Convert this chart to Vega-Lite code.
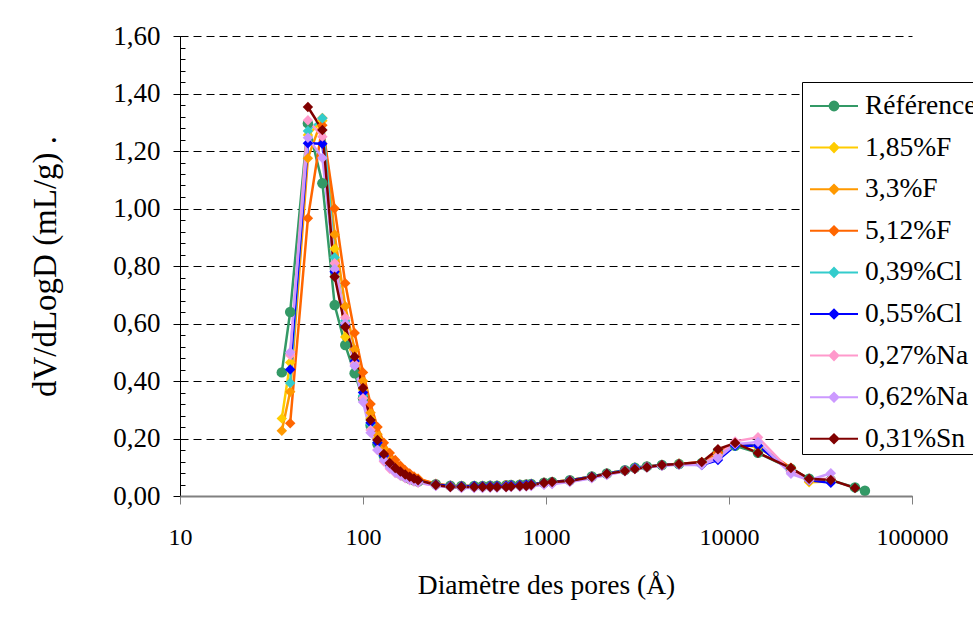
{
"$schema": "https://vega.github.io/schema/vega-lite/v6.json",
"width": 732, "height": 460,
"autosize": {"type": "none"},
"padding": {"left": 180, "top": 36, "right": 61, "bottom": 138},
"background": "white",
"config": {"font": "Liberation Serif", "view": {"stroke": null},
  "axis": {"labelFont": "Liberation Serif", "titleFont": "Liberation Serif", "labelFontSize": 26, "titleFontSize": 27.5, "titleFontWeight": "normal", "labelColor": "black", "titleColor": "black"}},
"data": {"values": [
{"s":"Référence","d":36,"v":0.43},{"s":"Référence","d":40,"v":0.64},{"s":"Référence","d":50,"v":1.296},{"s":"Référence","d":60,"v":1.088},{"s":"Référence","d":70,"v":0.664},{"s":"Référence","d":80,"v":0.525},{"s":"Référence","d":90,"v":0.427},{"s":"Référence","d":100,"v":0.34},{"s":"Référence","d":110,"v":0.245},{"s":"Référence","d":120,"v":0.18},{"s":"Référence","d":130,"v":0.14},{"s":"Référence","d":140,"v":0.11},{"s":"Référence","d":150,"v":0.09},{"s":"Référence","d":160,"v":0.077},{"s":"Référence","d":170,"v":0.068},{"s":"Référence","d":180,"v":0.06},{"s":"Référence","d":190,"v":0.055},{"s":"Référence","d":200,"v":0.05},{"s":"Référence","d":250,"v":0.041},{"s":"Référence","d":300,"v":0.036},{"s":"Référence","d":345,"v":0.035},{"s":"Référence","d":405,"v":0.035},{"s":"Référence","d":450,"v":0.035},{"s":"Référence","d":495,"v":0.036},{"s":"Référence","d":540,"v":0.036},{"s":"Référence","d":605,"v":0.037},{"s":"Référence","d":645,"v":0.038},{"s":"Référence","d":720,"v":0.039},{"s":"Référence","d":780,"v":0.04},{"s":"Référence","d":830,"v":0.042},{"s":"Référence","d":975,"v":0.046},{"s":"Référence","d":1080,"v":0.049},{"s":"Référence","d":1350,"v":0.055},{"s":"Référence","d":1780,"v":0.068},{"s":"Référence","d":2150,"v":0.078},{"s":"Référence","d":2700,"v":0.09},{"s":"Référence","d":3060,"v":0.098},{"s":"Référence","d":3560,"v":0.103},{"s":"Référence","d":4300,"v":0.108},{"s":"Référence","d":5330,"v":0.111},{"s":"Référence","d":7100,"v":0.115},{"s":"Référence","d":8700,"v":0.155},{"s":"Référence","d":10800,"v":0.175},{"s":"Référence","d":14400,"v":0.15},{"s":"Référence","d":21800,"v":0.095},{"s":"Référence","d":27400,"v":0.06},{"s":"Référence","d":36000,"v":0.055},{"s":"Référence","d":48800,"v":0.03},{"s":"Référence","d":55300,"v":0.018},
{"s":"1,85%F","d":36,"v":0.27},{"s":"1,85%F","d":40,"v":0.464},{"s":"1,85%F","d":50,"v":1.256},{"s":"1,85%F","d":60,"v":1.305},{"s":"1,85%F","d":70,"v":0.86},{"s":"1,85%F","d":80,"v":0.553},{"s":"1,85%F","d":90,"v":0.47},{"s":"1,85%F","d":100,"v":0.37},{"s":"1,85%F","d":110,"v":0.27},{"s":"1,85%F","d":120,"v":0.2},{"s":"1,85%F","d":130,"v":0.15},{"s":"1,85%F","d":140,"v":0.12},{"s":"1,85%F","d":150,"v":0.1},{"s":"1,85%F","d":160,"v":0.087},{"s":"1,85%F","d":170,"v":0.077},{"s":"1,85%F","d":180,"v":0.068},{"s":"1,85%F","d":190,"v":0.062},{"s":"1,85%F","d":200,"v":0.056},{"s":"1,85%F","d":250,"v":0.04},{"s":"1,85%F","d":300,"v":0.035},{"s":"1,85%F","d":345,"v":0.034},{"s":"1,85%F","d":405,"v":0.034},{"s":"1,85%F","d":450,"v":0.034},{"s":"1,85%F","d":495,"v":0.035},{"s":"1,85%F","d":540,"v":0.035},{"s":"1,85%F","d":605,"v":0.036},{"s":"1,85%F","d":645,"v":0.037},{"s":"1,85%F","d":720,"v":0.038},{"s":"1,85%F","d":780,"v":0.039},{"s":"1,85%F","d":830,"v":0.041},{"s":"1,85%F","d":975,"v":0.045},{"s":"1,85%F","d":1080,"v":0.048},{"s":"1,85%F","d":1350,"v":0.054},{"s":"1,85%F","d":1780,"v":0.067},{"s":"1,85%F","d":2150,"v":0.077},{"s":"1,85%F","d":2700,"v":0.089},{"s":"1,85%F","d":3060,"v":0.097},{"s":"1,85%F","d":3560,"v":0.102},{"s":"1,85%F","d":4300,"v":0.107},{"s":"1,85%F","d":5330,"v":0.111},{"s":"1,85%F","d":7100,"v":0.115},{"s":"1,85%F","d":8700,"v":0.15},{"s":"1,85%F","d":10800,"v":0.18},{"s":"1,85%F","d":14400,"v":0.17},{"s":"1,85%F","d":21800,"v":0.095},{"s":"1,85%F","d":27400,"v":0.048},{"s":"1,85%F","d":36000,"v":0.05},
{"s":"3,3%F","d":36,"v":0.227},{"s":"3,3%F","d":40,"v":0.363},{"s":"3,3%F","d":50,"v":1.175},{"s":"3,3%F","d":60,"v":1.315},{"s":"3,3%F","d":70,"v":0.91},{"s":"3,3%F","d":80,"v":0.66},{"s":"3,3%F","d":90,"v":0.51},{"s":"3,3%F","d":100,"v":0.4},{"s":"3,3%F","d":110,"v":0.29},{"s":"3,3%F","d":120,"v":0.215},{"s":"3,3%F","d":130,"v":0.165},{"s":"3,3%F","d":140,"v":0.13},{"s":"3,3%F","d":150,"v":0.108},{"s":"3,3%F","d":160,"v":0.093},{"s":"3,3%F","d":170,"v":0.082},{"s":"3,3%F","d":180,"v":0.073},{"s":"3,3%F","d":190,"v":0.066},{"s":"3,3%F","d":200,"v":0.06},{"s":"3,3%F","d":250,"v":0.041},{"s":"3,3%F","d":300,"v":0.036},{"s":"3,3%F","d":345,"v":0.035},{"s":"3,3%F","d":405,"v":0.035},{"s":"3,3%F","d":450,"v":0.035},{"s":"3,3%F","d":495,"v":0.036},{"s":"3,3%F","d":540,"v":0.036},{"s":"3,3%F","d":605,"v":0.037},{"s":"3,3%F","d":645,"v":0.038},{"s":"3,3%F","d":720,"v":0.039},{"s":"3,3%F","d":780,"v":0.04},{"s":"3,3%F","d":830,"v":0.042},{"s":"3,3%F","d":975,"v":0.046},{"s":"3,3%F","d":1080,"v":0.049},{"s":"3,3%F","d":1350,"v":0.055},{"s":"3,3%F","d":1780,"v":0.068},{"s":"3,3%F","d":2150,"v":0.078},{"s":"3,3%F","d":2700,"v":0.09},{"s":"3,3%F","d":3060,"v":0.098},{"s":"3,3%F","d":3560,"v":0.103},{"s":"3,3%F","d":4300,"v":0.108},{"s":"3,3%F","d":5330,"v":0.112},{"s":"3,3%F","d":7100,"v":0.116},{"s":"3,3%F","d":8700,"v":0.15},{"s":"3,3%F","d":10800,"v":0.18},{"s":"3,3%F","d":14400,"v":0.172},{"s":"3,3%F","d":21800,"v":0.095},{"s":"3,3%F","d":27400,"v":0.052},{"s":"3,3%F","d":36000,"v":0.052},
{"s":"5,12%F","d":40,"v":0.253},{"s":"5,12%F","d":50,"v":0.966},{"s":"5,12%F","d":60,"v":1.29},{"s":"5,12%F","d":70,"v":1.0},{"s":"5,12%F","d":80,"v":0.74},{"s":"5,12%F","d":90,"v":0.567},{"s":"5,12%F","d":100,"v":0.43},{"s":"5,12%F","d":110,"v":0.32},{"s":"5,12%F","d":120,"v":0.24},{"s":"5,12%F","d":130,"v":0.185},{"s":"5,12%F","d":140,"v":0.15},{"s":"5,12%F","d":150,"v":0.125},{"s":"5,12%F","d":160,"v":0.105},{"s":"5,12%F","d":170,"v":0.09},{"s":"5,12%F","d":180,"v":0.078},{"s":"5,12%F","d":190,"v":0.068},{"s":"5,12%F","d":200,"v":0.06},{"s":"5,12%F","d":250,"v":0.043},{"s":"5,12%F","d":300,"v":0.036},{"s":"5,12%F","d":345,"v":0.035},{"s":"5,12%F","d":405,"v":0.035},{"s":"5,12%F","d":450,"v":0.035},{"s":"5,12%F","d":495,"v":0.036},{"s":"5,12%F","d":540,"v":0.036},{"s":"5,12%F","d":605,"v":0.037},{"s":"5,12%F","d":645,"v":0.038},{"s":"5,12%F","d":720,"v":0.039},{"s":"5,12%F","d":780,"v":0.04},{"s":"5,12%F","d":830,"v":0.042},{"s":"5,12%F","d":975,"v":0.046},{"s":"5,12%F","d":1080,"v":0.049},{"s":"5,12%F","d":1350,"v":0.055},{"s":"5,12%F","d":1780,"v":0.068},{"s":"5,12%F","d":2150,"v":0.078},{"s":"5,12%F","d":2700,"v":0.09},{"s":"5,12%F","d":3060,"v":0.098},{"s":"5,12%F","d":3560,"v":0.103},{"s":"5,12%F","d":4300,"v":0.108},{"s":"5,12%F","d":5330,"v":0.112},{"s":"5,12%F","d":7100,"v":0.117},{"s":"5,12%F","d":8700,"v":0.152},{"s":"5,12%F","d":10800,"v":0.18},{"s":"5,12%F","d":14400,"v":0.175},{"s":"5,12%F","d":21800,"v":0.098},{"s":"5,12%F","d":27400,"v":0.056},{"s":"5,12%F","d":36000,"v":0.055},
{"s":"0,39%Cl","d":40,"v":0.393},{"s":"0,39%Cl","d":50,"v":1.27},{"s":"0,39%Cl","d":60,"v":1.314},{"s":"0,39%Cl","d":70,"v":0.83},{"s":"0,39%Cl","d":80,"v":0.61},{"s":"0,39%Cl","d":90,"v":0.47},{"s":"0,39%Cl","d":100,"v":0.35},{"s":"0,39%Cl","d":110,"v":0.25},{"s":"0,39%Cl","d":120,"v":0.185},{"s":"0,39%Cl","d":130,"v":0.14},{"s":"0,39%Cl","d":140,"v":0.11},{"s":"0,39%Cl","d":150,"v":0.09},{"s":"0,39%Cl","d":160,"v":0.078},{"s":"0,39%Cl","d":170,"v":0.069},{"s":"0,39%Cl","d":180,"v":0.062},{"s":"0,39%Cl","d":190,"v":0.056},{"s":"0,39%Cl","d":200,"v":0.051},{"s":"0,39%Cl","d":250,"v":0.04},{"s":"0,39%Cl","d":300,"v":0.035},{"s":"0,39%Cl","d":345,"v":0.034},{"s":"0,39%Cl","d":405,"v":0.034},{"s":"0,39%Cl","d":450,"v":0.034},{"s":"0,39%Cl","d":495,"v":0.035},{"s":"0,39%Cl","d":540,"v":0.035},{"s":"0,39%Cl","d":605,"v":0.036},{"s":"0,39%Cl","d":645,"v":0.037},{"s":"0,39%Cl","d":720,"v":0.038},{"s":"0,39%Cl","d":780,"v":0.039},{"s":"0,39%Cl","d":830,"v":0.041},{"s":"0,39%Cl","d":975,"v":0.045},{"s":"0,39%Cl","d":1080,"v":0.048},{"s":"0,39%Cl","d":1350,"v":0.054},{"s":"0,39%Cl","d":1780,"v":0.068},{"s":"0,39%Cl","d":2150,"v":0.078},{"s":"0,39%Cl","d":2700,"v":0.09},{"s":"0,39%Cl","d":3060,"v":0.099},{"s":"0,39%Cl","d":3560,"v":0.103},{"s":"0,39%Cl","d":4300,"v":0.107},{"s":"0,39%Cl","d":5330,"v":0.111},{"s":"0,39%Cl","d":7100,"v":0.112},{"s":"0,39%Cl","d":8700,"v":0.14},{"s":"0,39%Cl","d":10800,"v":0.175},{"s":"0,39%Cl","d":14400,"v":0.175},{"s":"0,39%Cl","d":21800,"v":0.09},{"s":"0,39%Cl","d":27400,"v":0.056},{"s":"0,39%Cl","d":36000,"v":0.052},
{"s":"0,55%Cl","d":40,"v":0.44},{"s":"0,55%Cl","d":50,"v":1.227},{"s":"0,55%Cl","d":60,"v":1.225},{"s":"0,55%Cl","d":70,"v":0.78},{"s":"0,55%Cl","d":80,"v":0.595},{"s":"0,55%Cl","d":90,"v":0.47},{"s":"0,55%Cl","d":100,"v":0.36},{"s":"0,55%Cl","d":110,"v":0.255},{"s":"0,55%Cl","d":120,"v":0.185},{"s":"0,55%Cl","d":130,"v":0.14},{"s":"0,55%Cl","d":140,"v":0.11},{"s":"0,55%Cl","d":150,"v":0.09},{"s":"0,55%Cl","d":160,"v":0.078},{"s":"0,55%Cl","d":170,"v":0.069},{"s":"0,55%Cl","d":180,"v":0.062},{"s":"0,55%Cl","d":190,"v":0.056},{"s":"0,55%Cl","d":200,"v":0.051},{"s":"0,55%Cl","d":250,"v":0.04},{"s":"0,55%Cl","d":300,"v":0.035},{"s":"0,55%Cl","d":345,"v":0.034},{"s":"0,55%Cl","d":405,"v":0.035},{"s":"0,55%Cl","d":450,"v":0.034},{"s":"0,55%Cl","d":495,"v":0.035},{"s":"0,55%Cl","d":540,"v":0.035},{"s":"0,55%Cl","d":605,"v":0.036},{"s":"0,55%Cl","d":645,"v":0.037},{"s":"0,55%Cl","d":720,"v":0.038},{"s":"0,55%Cl","d":780,"v":0.039},{"s":"0,55%Cl","d":830,"v":0.041},{"s":"0,55%Cl","d":975,"v":0.045},{"s":"0,55%Cl","d":1080,"v":0.048},{"s":"0,55%Cl","d":1350,"v":0.054},{"s":"0,55%Cl","d":1780,"v":0.067},{"s":"0,55%Cl","d":2150,"v":0.077},{"s":"0,55%Cl","d":2700,"v":0.089},{"s":"0,55%Cl","d":3060,"v":0.097},{"s":"0,55%Cl","d":3560,"v":0.102},{"s":"0,55%Cl","d":4300,"v":0.107},{"s":"0,55%Cl","d":5330,"v":0.11},{"s":"0,55%Cl","d":7100,"v":0.108},{"s":"0,55%Cl","d":8700,"v":0.125},{"s":"0,55%Cl","d":10800,"v":0.175},{"s":"0,55%Cl","d":14400,"v":0.175},{"s":"0,55%Cl","d":21800,"v":0.085},{"s":"0,55%Cl","d":27400,"v":0.055},{"s":"0,55%Cl","d":36000,"v":0.046},
{"s":"0,27%Na","d":40,"v":0.49},{"s":"0,27%Na","d":50,"v":1.307},{"s":"0,27%Na","d":60,"v":1.25},{"s":"0,27%Na","d":70,"v":0.81},{"s":"0,27%Na","d":80,"v":0.62},{"s":"0,27%Na","d":90,"v":0.46},{"s":"0,27%Na","d":100,"v":0.34},{"s":"0,27%Na","d":110,"v":0.23},{"s":"0,27%Na","d":120,"v":0.16},{"s":"0,27%Na","d":130,"v":0.12},{"s":"0,27%Na","d":140,"v":0.095},{"s":"0,27%Na","d":150,"v":0.08},{"s":"0,27%Na","d":160,"v":0.07},{"s":"0,27%Na","d":170,"v":0.062},{"s":"0,27%Na","d":180,"v":0.055},{"s":"0,27%Na","d":190,"v":0.05},{"s":"0,27%Na","d":200,"v":0.046},{"s":"0,27%Na","d":250,"v":0.036},{"s":"0,27%Na","d":300,"v":0.031},{"s":"0,27%Na","d":345,"v":0.029},{"s":"0,27%Na","d":405,"v":0.029},{"s":"0,27%Na","d":450,"v":0.029},{"s":"0,27%Na","d":495,"v":0.03},{"s":"0,27%Na","d":540,"v":0.03},{"s":"0,27%Na","d":605,"v":0.031},{"s":"0,27%Na","d":645,"v":0.032},{"s":"0,27%Na","d":720,"v":0.033},{"s":"0,27%Na","d":780,"v":0.034},{"s":"0,27%Na","d":830,"v":0.036},{"s":"0,27%Na","d":975,"v":0.04},{"s":"0,27%Na","d":1080,"v":0.043},{"s":"0,27%Na","d":1350,"v":0.05},{"s":"0,27%Na","d":1780,"v":0.063},{"s":"0,27%Na","d":2150,"v":0.074},{"s":"0,27%Na","d":2700,"v":0.087},{"s":"0,27%Na","d":3060,"v":0.095},{"s":"0,27%Na","d":3560,"v":0.1},{"s":"0,27%Na","d":4300,"v":0.106},{"s":"0,27%Na","d":5330,"v":0.11},{"s":"0,27%Na","d":7100,"v":0.113},{"s":"0,27%Na","d":8700,"v":0.14},{"s":"0,27%Na","d":10800,"v":0.19},{"s":"0,27%Na","d":14400,"v":0.204},{"s":"0,27%Na","d":21800,"v":0.085},{"s":"0,27%Na","d":27400,"v":0.058},{"s":"0,27%Na","d":36000,"v":0.06},
{"s":"0,62%Na","d":40,"v":0.5},{"s":"0,62%Na","d":50,"v":1.246},{"s":"0,62%Na","d":60,"v":1.176},{"s":"0,62%Na","d":70,"v":0.79},{"s":"0,62%Na","d":80,"v":0.6},{"s":"0,62%Na","d":90,"v":0.452},{"s":"0,62%Na","d":100,"v":0.327},{"s":"0,62%Na","d":110,"v":0.22},{"s":"0,62%Na","d":120,"v":0.16},{"s":"0,62%Na","d":130,"v":0.125},{"s":"0,62%Na","d":140,"v":0.1},{"s":"0,62%Na","d":150,"v":0.083},{"s":"0,62%Na","d":160,"v":0.072},{"s":"0,62%Na","d":170,"v":0.064},{"s":"0,62%Na","d":180,"v":0.057},{"s":"0,62%Na","d":190,"v":0.052},{"s":"0,62%Na","d":200,"v":0.048},{"s":"0,62%Na","d":250,"v":0.035},{"s":"0,62%Na","d":300,"v":0.03},{"s":"0,62%Na","d":345,"v":0.028},{"s":"0,62%Na","d":405,"v":0.028},{"s":"0,62%Na","d":450,"v":0.028},{"s":"0,62%Na","d":495,"v":0.029},{"s":"0,62%Na","d":540,"v":0.029},{"s":"0,62%Na","d":605,"v":0.03},{"s":"0,62%Na","d":645,"v":0.031},{"s":"0,62%Na","d":720,"v":0.032},{"s":"0,62%Na","d":780,"v":0.033},{"s":"0,62%Na","d":830,"v":0.035},{"s":"0,62%Na","d":975,"v":0.039},{"s":"0,62%Na","d":1080,"v":0.042},{"s":"0,62%Na","d":1350,"v":0.049},{"s":"0,62%Na","d":1780,"v":0.062},{"s":"0,62%Na","d":2150,"v":0.073},{"s":"0,62%Na","d":2700,"v":0.086},{"s":"0,62%Na","d":3060,"v":0.094},{"s":"0,62%Na","d":3560,"v":0.099},{"s":"0,62%Na","d":4300,"v":0.105},{"s":"0,62%Na","d":5330,"v":0.109},{"s":"0,62%Na","d":7100,"v":0.108},{"s":"0,62%Na","d":8700,"v":0.131},{"s":"0,62%Na","d":10800,"v":0.18},{"s":"0,62%Na","d":14400,"v":0.188},{"s":"0,62%Na","d":21800,"v":0.077},{"s":"0,62%Na","d":27400,"v":0.055},{"s":"0,62%Na","d":36000,"v":0.079},
{"s":"0,31%Sn","d":50,"v":1.353},{"s":"0,31%Sn","d":60,"v":1.273},{"s":"0,31%Sn","d":70,"v":0.763},{"s":"0,31%Sn","d":80,"v":0.588},{"s":"0,31%Sn","d":90,"v":0.484},{"s":"0,31%Sn","d":100,"v":0.376},{"s":"0,31%Sn","d":110,"v":0.264},{"s":"0,31%Sn","d":120,"v":0.195},{"s":"0,31%Sn","d":130,"v":0.146},{"s":"0,31%Sn","d":140,"v":0.115},{"s":"0,31%Sn","d":150,"v":0.097},{"s":"0,31%Sn","d":160,"v":0.085},{"s":"0,31%Sn","d":170,"v":0.075},{"s":"0,31%Sn","d":180,"v":0.067},{"s":"0,31%Sn","d":190,"v":0.061},{"s":"0,31%Sn","d":200,"v":0.055},{"s":"0,31%Sn","d":250,"v":0.038},{"s":"0,31%Sn","d":300,"v":0.031},{"s":"0,31%Sn","d":345,"v":0.031},{"s":"0,31%Sn","d":405,"v":0.031},{"s":"0,31%Sn","d":450,"v":0.031},{"s":"0,31%Sn","d":495,"v":0.031},{"s":"0,31%Sn","d":540,"v":0.031},{"s":"0,31%Sn","d":605,"v":0.031},{"s":"0,31%Sn","d":645,"v":0.033},{"s":"0,31%Sn","d":720,"v":0.035},{"s":"0,31%Sn","d":780,"v":0.035},{"s":"0,31%Sn","d":830,"v":0.038},{"s":"0,31%Sn","d":975,"v":0.045},{"s":"0,31%Sn","d":1080,"v":0.049},{"s":"0,31%Sn","d":1350,"v":0.052},{"s":"0,31%Sn","d":1780,"v":0.066},{"s":"0,31%Sn","d":2150,"v":0.077},{"s":"0,31%Sn","d":2700,"v":0.087},{"s":"0,31%Sn","d":3060,"v":0.094},{"s":"0,31%Sn","d":3560,"v":0.1},{"s":"0,31%Sn","d":4300,"v":0.108},{"s":"0,31%Sn","d":5330,"v":0.111},{"s":"0,31%Sn","d":7100,"v":0.118},{"s":"0,31%Sn","d":8700,"v":0.163},{"s":"0,31%Sn","d":10800,"v":0.184},{"s":"0,31%Sn","d":14400,"v":0.15},{"s":"0,31%Sn","d":21800,"v":0.097},{"s":"0,31%Sn","d":27400,"v":0.06},{"s":"0,31%Sn","d":36000,"v":0.056},{"s":"0,31%Sn","d":48800,"v":0.028}
]},
"layer": [
{"mark": {"type": "line", "strokeWidth": 2.5},
 "encoding": {
  "x": {"field": "d", "type": "quantitative", "scale": {"type": "log", "domain": [10, 100000]},
        "axis": {"values": [10, 100, 1000, 10000, 100000], "format": "d", "title": "Diamètre des pores (Å)", "grid": false, "domainColor": "#808080", "domainWidth": 2, "tickColor": "#808080", "tickSize": 8, "labelFontSize": 24, "labelPadding": 21, "titlePadding": 22, "zindex": 1, "labelFlush": false, "labelOverlap": false}},
  "y": {"field": "v", "type": "quantitative", "scale": {"domain": [0, 1.6], "nice": false},
        "axis": {"orient": "left", "values": [0, 0.2, 0.4, 0.6, 0.8, 1.0, 1.2, 1.4, 1.6], "labelExpr": "replace(format(datum.value, '.2f'), '.', ',')", "title": "dV/dLogD (mL/g) .", "titleFontSize": 33, "grid": true, "gridColor": "black", "gridDash": [8, 5], "gridWidth": 1, "domainColor": "black", "domainWidth": 1, "tickColor": "black", "tickSize": 7, "labelFontSize": 27, "labelPadding": 13, "titlePadding": 50}},
  "color": {"field": "s", "type": "nominal",
    "scale": {"domain": ["Référence", "1,85%F", "3,3%F", "5,12%F", "0,39%Cl", "0,55%Cl", "0,27%Na", "0,62%Na", "0,31%Sn"],
              "range": ["#339966", "#FFCC00", "#FF9900", "#FF6600", "#33CCCC", "#0000FF", "#FF99CC", "#CC99FF", "#800000"]},
    "legend": {"orient": "none", "legendX": 622, "legendY": 46, "title": null, "labelFont": "Liberation Serif", "labelFontSize": 27.5, "labelColor": "black", "strokeColor": "black", "fillColor": "white", "padding": 1, "rowPadding": 4.6, "symbolSize": 1936, "symbolOffset": 8, "labelOffset": 8, "symbolStrokeWidth": 2,
      "encode": {"symbols": {"update": {
        "shape": {"signal": "datum.value === 'Référence' ? 'M-1.091,0L1.091,0M-0.2,0A0.2,0.2,0,1,0,0.2,0A0.2,0.2,0,1,0,-0.2,0Z' : 'M-1.091,0L1.091,0M-0.2,0L0,-0.2L0.2,0L0,0.2Z'"},
        "fill": {"scale": "color", "field": "value"},
        "stroke": {"scale": "color", "field": "value"},
        "strokeWidth": {"value": 2},
        "opacity": {"value": 1}}}}}}
 }},
{"transform": [{"filter": "datum.s === 'Référence'"}],
 "mark": {"type": "point", "filled": true, "size": 110, "opacity": 1, "shape": "circle"},
 "encoding": {
  "x": {"field": "d", "type": "quantitative"},
  "y": {"field": "v", "type": "quantitative",
        "axis": {"orient": "left", "values": [0,0.04,0.08,0.12,0.16,0.2,0.24,0.28,0.32,0.36,0.4,0.44,0.48,0.52,0.56,0.6,0.64,0.68,0.72,0.76,0.8,0.84,0.88,0.92,0.96,1.0,1.04,1.08,1.12,1.16,1.2,1.24,1.28,1.32,1.36,1.4,1.44,1.48,1.52,1.56,1.6], "labels": false, "domain": false, "grid": false, "title": null, "tickColor": "black", "tickSize": -5}},
  "color": {"field": "s", "type": "nominal", "legend": null}
 }},
{"transform": [{"filter": "datum.s !== 'Référence'"}],
 "mark": {"type": "point", "filled": true, "size": 110, "opacity": 1, "shape": "diamond"},
 "encoding": {
  "x": {"field": "d", "type": "quantitative"},
  "y": {"field": "v", "type": "quantitative", "axis": null},
  "color": {"field": "s", "type": "nominal", "legend": null}
 }}
],
"resolve": {"axis": {"y": "independent"}}
}
